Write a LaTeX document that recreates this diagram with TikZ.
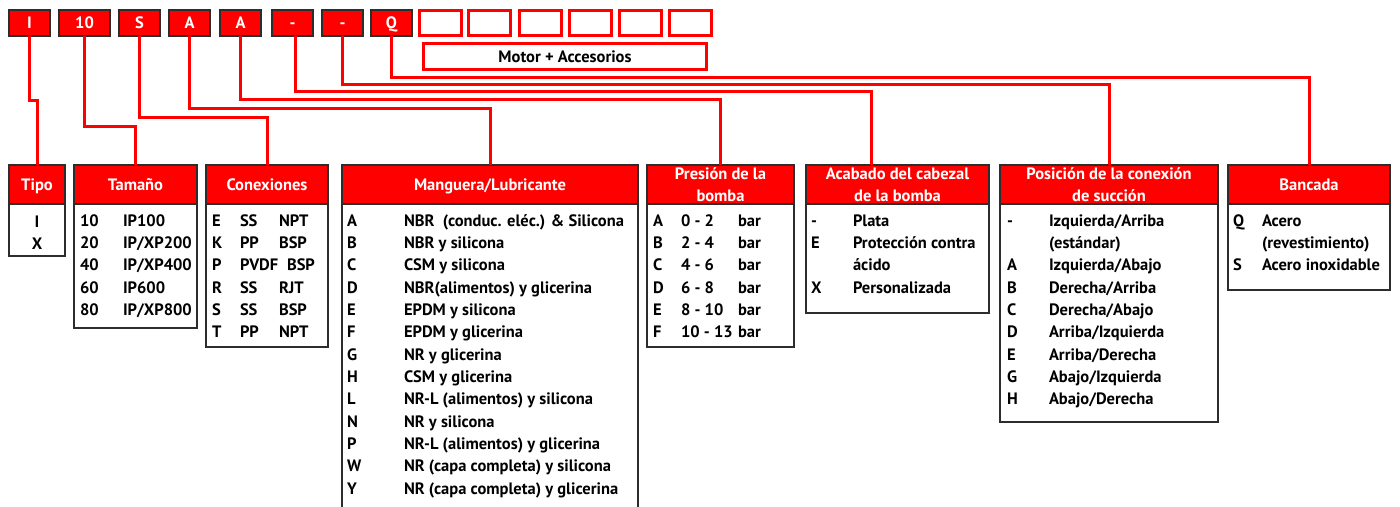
\documentclass[tikz,border=0pt]{standalone}
\usepackage{fontspec}
\setmainfont{PT Sans}
\definecolor{rd}{RGB}{255,0,0}
\definecolor{bd}{RGB}{45,45,45}
\newcommand{\cel}[4]{\node[cell] (#1) at (#2,{226+22.36*(#3)}) {#4};}
\begin{document}
\begin{tikzpicture}[x=1pt,y=-1pt,
 font=\fontsize{16.5}{21.7}\selectfont\bfseries,
 code/.style={fill=rd, draw=bd, line width=1.2pt, text=white, minimum width=41pt, minimum height=26pt, inner sep=0pt, outer sep=0pt, text height=11pt, text depth=0pt},
 slot/.style={draw=rd, line width=3pt, fill=white, minimum width=42pt, minimum height=25pt, inner sep=0pt, outer sep=0pt},
 hdr/.style={fill=rd, draw=bd, line width=1.3pt, text=white, inner sep=0pt, outer sep=0pt, align=center, minimum height=39pt},
 hdrone/.style={hdr, text height=11pt, text depth=0pt},
 body/.style={draw=bd, line width=1.3pt, fill=white, inner sep=0pt, outer sep=0pt},
 conn/.style={draw=rd, line width=3pt},
 cell/.style={anchor=base west, inner sep=0pt, outer sep=0pt, text=black}]
\useasboundingbox[fill=white] (0,0) rectangle (1400,506);

% code boxes
\node[code] (tI) at (29.5,23) {I};
\node[code, minimum width=51pt] (t10) at (84.5,23) {10};
\node[code] (tS) at (139.5,23) {S};
\node[code] (tA1) at (189.5,23) {A};
\node[code] (tA2) at (240.5,23) {A};
\node[code] (tD1) at (292.5,23) {-};
\node[code] (tD2) at (342.5,23) {-};
\node[code] (tQ) at (391.5,23) {Q};
% empty slots
\node[slot] (s1) at (440.5,23) {};
\node[slot] (s2) at (489.5,23) {};
\node[slot] (s3) at (540.5,23) {};
\node[slot] (s4) at (590.5,23) {};
\node[slot] (s5) at (640,23) {};
\node[slot] (s6) at (690,23) {};
\node[slot, minimum width=283pt, minimum height=26pt, text height=11pt, text depth=0pt] (motor) at (565,56.5) {Motor + Accesorios};

% headers
\node[hdrone, minimum width=56pt] (hTipo) at (37,184.5) {Tipo};
\node[hdrone, minimum width=123pt] (hTam) at (135.5,184.5) {Tamaño};
\node[hdrone, minimum width=122pt] (hCon) at (267,184.5) {Conexiones};
\node[hdrone, minimum width=296pt] (hMan) at (490,184.5) {Manguera/Lubricante};
\node[hdr, minimum width=147pt] (hPre) at (720.5,184.5) {Presión de la\\bomba};
\node[hdr, minimum width=183pt] (hAca) at (897.5,184.5) {Acabado del cabezal\\de la bomba};
\node[hdr, minimum width=218pt] (hPos) at (1109,184.5) {Posición de la conexión\\de succión};
\node[hdrone, minimum width=162pt] (hBan) at (1309,184.5) {Bancada};

% bodies
\node[body, minimum width=56pt, minimum height=52pt, anchor=north] (bTipo) at (hTipo.south) {};
\node[body, minimum width=123pt, minimum height=124pt, anchor=north] (bTam) at (hTam.south) {};
\node[body, minimum width=122pt, minimum height=143pt, anchor=north] (bCon) at (hCon.south) {};
\draw[bd, line width=1.3pt] (hMan.south west) -- ++(0,303);
\draw[bd, line width=1.3pt] (hMan.south east) -- ++(0,303);
\node[body, minimum width=147pt, minimum height=143pt, anchor=north] (bPre) at (hPre.south) {};
\node[body, minimum width=183pt, minimum height=109pt, anchor=north] (bAca) at (hAca.south) {};
\node[body, minimum width=218pt, minimum height=218pt, anchor=north] (bPos) at (hPos.south) {};
\node[body, minimum width=162pt, minimum height=86pt, anchor=north] (bBan) at (hBan.south) {};

% connectors
\draw[conn] (tI.south) -- ++(0,64) -| (hTipo.north);
\draw[conn] (t10.south) -- ++(0,90) -| (hTam.north);
\draw[conn] (tS.south) -- ++(0,81) -| (hCon.north);
\draw[conn] (tA1.south) -- ++(0,72) -| (hMan.north);
\draw[conn] (tA2.south) -- ++(0,63) -| (hPre.north);
\draw[conn] ([xshift=2.5pt]tD1.south) -- ++(0,55) -| ([xshift=-26.5pt]hAca.north);
\draw[conn] (tD2.south) -- ++(0,48) -| (hPos.north);
\draw[conn] (tQ.south) -- ++(0,41) -| (hBan.north);

% Tipo
\node[cell, anchor=base] (ti0) at (37,227) {I};
\node[cell, anchor=base] (ti1) at (37,249.4) {X};
% Tamano
\cel{ta0a}{80}{0}{10}\cel{ta0b}{123}{0}{IP100}
\cel{ta1a}{80}{1}{20}\cel{ta1b}{123}{1}{IP/XP200}
\cel{ta2a}{80}{2}{40}\cel{ta2b}{123}{2}{IP/XP400}
\cel{ta3a}{80}{3}{60}\cel{ta3b}{123}{3}{IP600}
\cel{ta4a}{80}{4}{80}\cel{ta4b}{123}{4}{IP/XP800}
% Conexiones
\cel{c0a}{212}{0}{E}\cel{c0b}{240}{0}{SS}\cel{c0c}{279}{0}{NPT}
\cel{c1a}{212}{1}{K}\cel{c1b}{240}{1}{PP}\cel{c1c}{279}{1}{BSP}
\cel{c2a}{212}{2}{P}\cel{c2b}{240}{2}{PVDF}\cel{c2c}{287}{2}{BSP}
\cel{c3a}{212}{3}{R}\cel{c3b}{240}{3}{SS}\cel{c3c}{279}{3}{RJT}
\cel{c4a}{212}{4}{S}\cel{c4b}{240}{4}{SS}\cel{c4c}{279}{4}{BSP}
\cel{c5a}{212}{5}{T}\cel{c5b}{240}{5}{PP}\cel{c5c}{279}{5}{NPT}
% Manguera
\cel{m0a}{347}{0}{A}\cel{m0b}{404}{0}{NBR\ \ (conduc. eléc.) \& Silicona}
\cel{m1a}{347}{1}{B}\cel{m1b}{404}{1}{NBR y silicona}
\cel{m2a}{347}{2}{C}\cel{m2b}{404}{2}{CSM y silicona}
\cel{m3a}{347}{3}{D}\cel{m3b}{404}{3}{NBR(alimentos) y glicerina}
\cel{m4a}{347}{4}{E}\cel{m4b}{404}{4}{EPDM y silicona}
\cel{m5a}{347}{5}{F}\cel{m5b}{404}{5}{EPDM y glicerina}
\cel{m6a}{347}{6}{G}\cel{m6b}{404}{6}{NR y glicerina}
\cel{m7a}{347}{7}{H}\cel{m7b}{404}{7}{CSM y glicerina}
\cel{m8a}{347}{8}{L}\cel{m8b}{404}{8}{NR-L (alimentos) y silicona}
\cel{m9a}{347}{9}{N}\cel{m9b}{404}{9}{NR y silicona}
\cel{m10a}{347}{10}{P}\cel{m10b}{404}{10}{NR-L (alimentos) y glicerina}
\cel{m11a}{347}{11}{W}\cel{m11b}{404}{11}{NR (capa completa) y silicona}
\cel{m12a}{347}{12}{Y}\cel{m12b}{404}{12}{NR (capa completa) y glicerina}
% Presion
\cel{p0a}{653}{0}{A}\cel{p0b}{681}{0}{0 - 2}\cel{p0c}{738}{0}{bar}
\cel{p1a}{653}{1}{B}\cel{p1b}{681}{1}{2 - 4}\cel{p1c}{738}{1}{bar}
\cel{p2a}{653}{2}{C}\cel{p2b}{681}{2}{4 - 6}\cel{p2c}{738}{2}{bar}
\cel{p3a}{653}{3}{D}\cel{p3b}{681}{3}{6 - 8}\cel{p3c}{738}{3}{bar}
\cel{p4a}{653}{4}{E}\cel{p4b}{681}{4}{8 - 10}\cel{p4c}{738}{4}{bar}
\cel{p5a}{653}{5}{F}\cel{p5b}{681}{5}{10 - 13}\cel{p5c}{738}{5}{bar}
% Acabado
\cel{a0a}{811}{0}{-}\cel{a0b}{853}{0}{Plata}
\cel{a1a}{811}{1}{E}\cel{a1b}{853}{1}{Protección contra}
\cel{a2b}{853}{2}{ácido}
\cel{a3a}{811}{3}{X}\cel{a3b}{853}{3}{Personalizada}
% Posicion
\cel{q0a}{1007}{0}{-}\cel{q0b}{1049}{0}{Izquierda/Arriba}
\cel{q1b}{1049}{1}{(estándar)}
\cel{q2a}{1007}{2}{A}\cel{q2b}{1049}{2}{Izquierda/Abajo}
\cel{q3a}{1007}{3}{B}\cel{q3b}{1049}{3}{Derecha/Arriba}
\cel{q4a}{1007}{4}{C}\cel{q4b}{1049}{4}{Derecha/Abajo}
\cel{q5a}{1007}{5}{D}\cel{q5b}{1049}{5}{Arriba/Izquierda}
\cel{q6a}{1007}{6}{E}\cel{q6b}{1049}{6}{Arriba/Derecha}
\cel{q7a}{1007}{7}{G}\cel{q7b}{1049}{7}{Abajo/Izquierda}
\cel{q8a}{1007}{8}{H}\cel{q8b}{1049}{8}{Abajo/Derecha}
% Bancada
\cel{b0a}{1233}{0}{Q}\cel{b0b}{1262}{0}{Acero}
\cel{b1b}{1262}{1}{(revestimiento)}
\cel{b2a}{1233}{2}{S}\cel{b2b}{1262}{2}{Acero inoxidable}
\end{tikzpicture}
\end{document}
